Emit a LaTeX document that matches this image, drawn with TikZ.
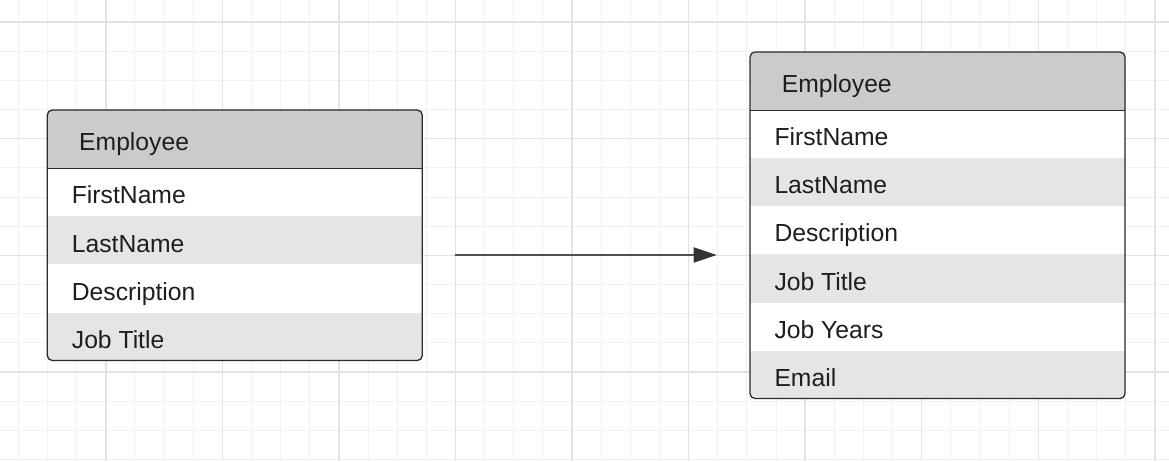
\documentclass[tikz,border=0pt]{standalone}
\usepackage{fontspec}
\setmainfont{Liberation Sans}
\usetikzlibrary{arrows.meta}
\definecolor{gridminor}{HTML}{F1F1F1}
\definecolor{gridmajor}{HTML}{E2E2E2}
\definecolor{hdrfill}{HTML}{CBCBCB}
\definecolor{altfill}{HTML}{E5E5E5}
\definecolor{edge}{HTML}{2B2B2B}
\definecolor{ink}{HTML}{1E1E1E}
\definecolor{shaft}{HTML}{505050}
\definecolor{tipfill}{HTML}{333333}
\begin{document}
\begin{tikzpicture}[x=1pt,y=-1pt,
  minorline/.style={draw=gridminor,line width=1pt},
  majorline/.style={draw=gridmajor,line width=1.4pt},
  tablebox/.style={rectangle,draw=edge,line width=1.3pt,rounded corners=5pt,minimum width=375pt,inner sep=0pt,outer sep=0pt},
  sepline/.style={draw=edge,line width=1.3pt},
  field/.style={anchor=base west,inner sep=0pt,text=ink,font=\fontsize{24.7}{30}\selectfont},
  conn/.style={draw=shaft,line width=1.8pt,-{Triangle[length=23pt,width=15pt,color=tipfill]}}]
\fill[white] (0,0) rectangle (1169,462);
\useasboundingbox (0,0) rectangle (1169,462);
% grid
\foreach \i in {-3,...,36} \draw[minorline] ({105.8+29.14*\i},0) -- ++(0,461);
\foreach \j in {0,...,15} \draw[minorline] (0,{22.2+29.14*\j}) -- ++(1169,0);
\foreach \i in {0,4,...,36} \draw[majorline] ({105.8+29.14*\i},0) -- ++(0,461);
\foreach \j in {0,4,...,12} \draw[majorline] (0,{22.2+29.14*\j}) -- ++(1169,0);
% left table fills
\begin{scope}
\clip[rounded corners=5pt] (47.3,110) rectangle (422.3,360.5);
\fill[white] (47.3,110) rectangle (422.3,360.5);
\fill[hdrfill] (47.3,110) rectangle (422.3,168.5);
\fill[altfill] (47.3,216.5) rectangle (422.3,264.5);
\fill[altfill] (47.3,312.5) rectangle (422.3,360.5);
\end{scope}
\node[tablebox,minimum height=250.5pt] (L) at (234.8,235.25) {};
\draw[sepline] ([yshift=-58.5pt]L.north west) -- ([yshift=-58.5pt]L.north east);
\node[field] (Lh) at (79,150.3) {Employee};
\node[field] (L1) at (71.7,204) {FirstName};
\node[field] (L2) at (71.7,252) {LastName};
\node[field] (L3) at (71.7,300) {Description};
\node[field] (L4) at (71.7,348) {Job Title};
% right table fills
\begin{scope}
\clip[rounded corners=5pt] (750,52) rectangle (1125,398.5);
\fill[white] (750,52) rectangle (1125,398.5);
\fill[hdrfill] (750,52) rectangle (1125,110.5);
\fill[altfill] (750,158.5) rectangle (1125,206.5);
\fill[altfill] (750,254.5) rectangle (1125,302.5);
\fill[altfill] (750,350.5) rectangle (1125,398.5);
\end{scope}
\node[tablebox,minimum height=346.5pt] (R) at (937.5,225.25) {};
\draw[sepline] ([yshift=-58.5pt]R.north west) -- ([yshift=-58.5pt]R.north east);
\node[field] (Rh) at (781.7,92.3) {Employee};
\node[field] (R1) at (774.3,146) {FirstName};
\node[field] (R2) at (774.3,194) {LastName};
\node[field] (R3) at (774.3,242) {Description};
\node[field] (R4) at (774.3,290) {Job Title};
\node[field] (R5) at (774.3,338) {Job Years};
\node[field] (R6) at (774.3,386) {Email};
% connector
\coordinate (a) at ([xshift=33pt,yshift=-19.75pt]L.east);
\coordinate (b0) at (a -| R.west);
\coordinate (b) at ([xshift=-33.3pt]b0);
\draw[conn] (a) -- (b);
\end{tikzpicture}
\end{document}
